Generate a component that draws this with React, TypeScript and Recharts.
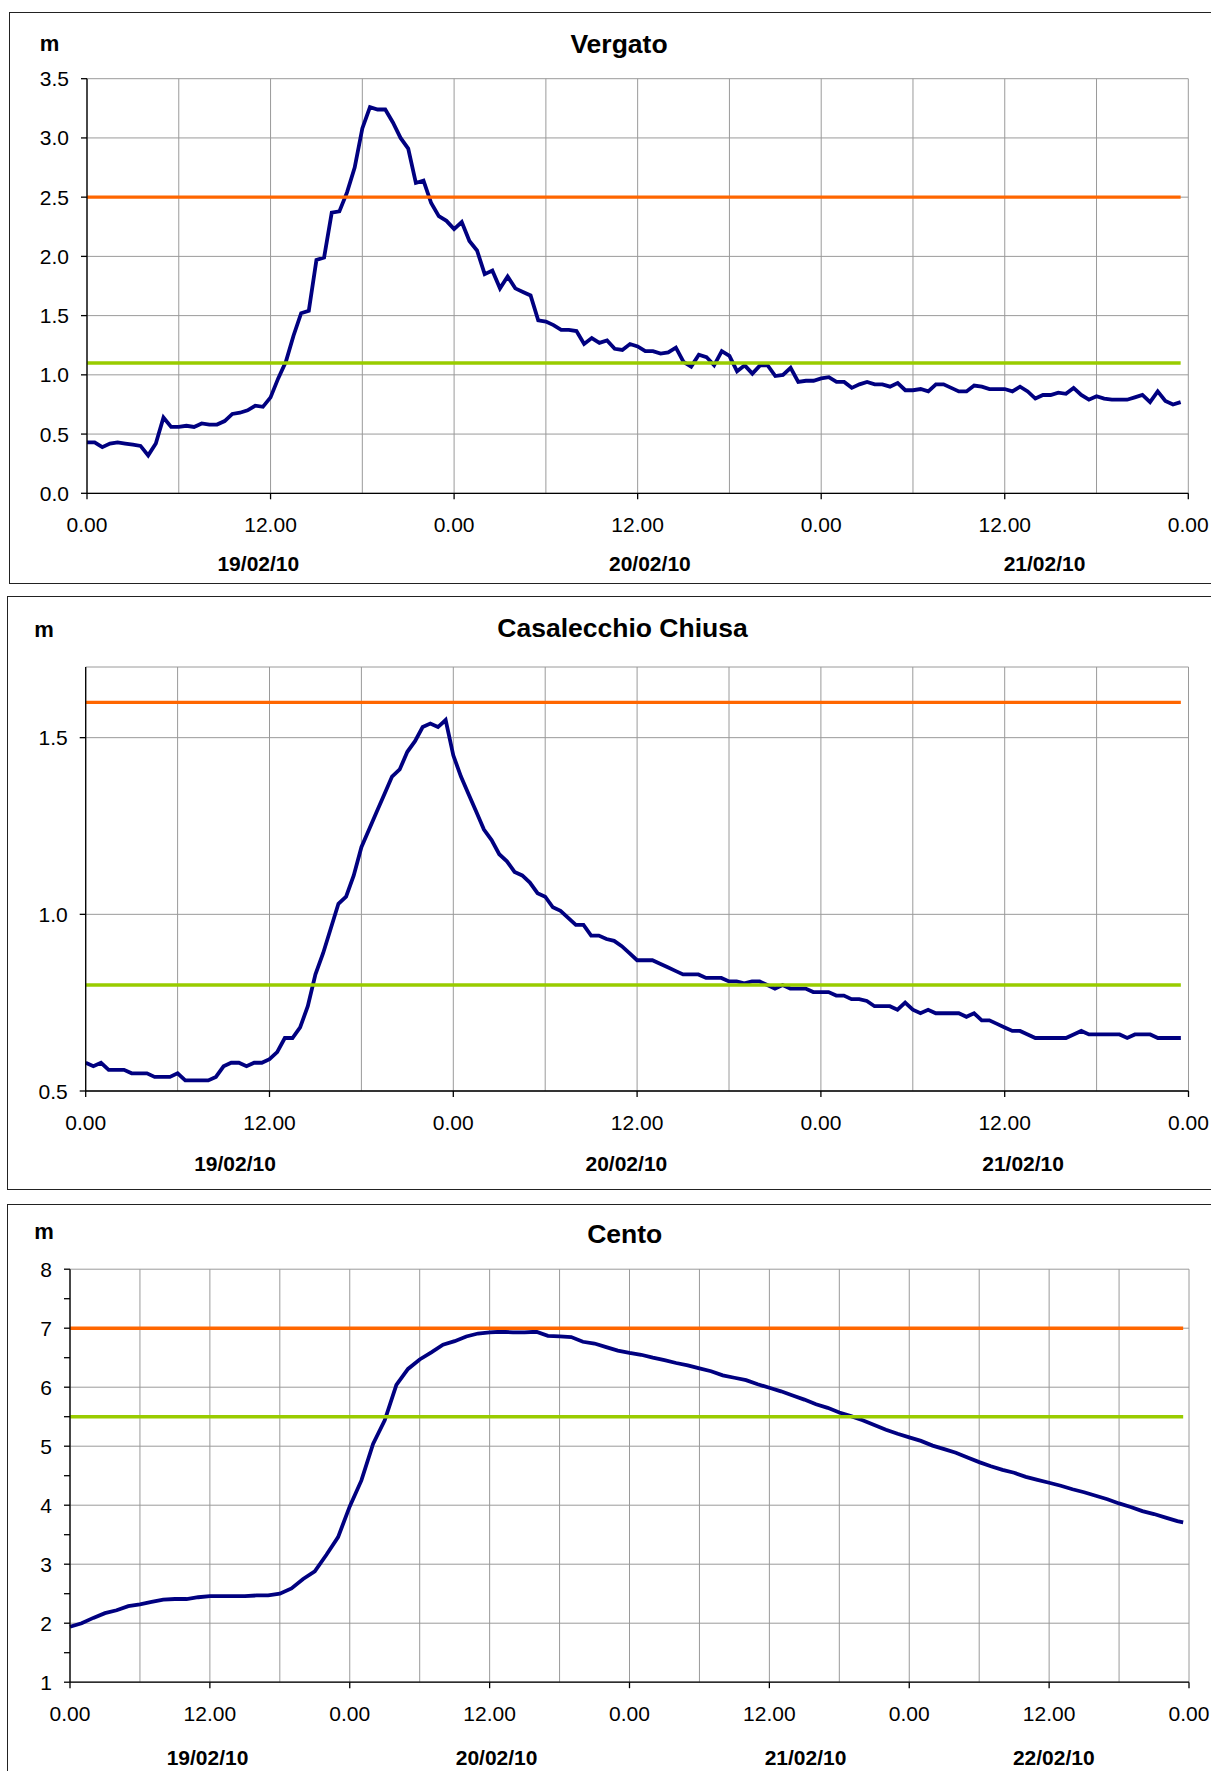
import React from "react";
import { LineChart, Line, XAxis, YAxis, CartesianGrid } from "recharts";

const FONT = '"Liberation Sans", Arial, Helvetica, sans-serif';

// water level (m), one reading every half hour from 19/02/10 0.00
const VERGATO_LEVEL = [
  0.43, 0.43, 0.39, 0.42, 0.43, 0.42, 0.41, 0.40, 0.32, 0.42,
  0.64, 0.56, 0.56, 0.57, 0.56, 0.59, 0.58, 0.58, 0.61, 0.67,
  0.68, 0.70, 0.74, 0.73, 0.81, 0.97, 1.11, 1.33, 1.52, 1.54,
  1.97, 1.99, 2.37, 2.38, 2.54, 2.75, 3.08, 3.26, 3.24, 3.24,
  3.13, 3.00, 2.91, 2.62, 2.64, 2.45, 2.34, 2.30, 2.23, 2.29,
  2.13, 2.05, 1.85, 1.88, 1.73, 1.83, 1.73, 1.70, 1.67, 1.46,
  1.45, 1.42, 1.38, 1.38, 1.37, 1.26, 1.31, 1.27, 1.29, 1.22,
  1.21, 1.26, 1.24, 1.20, 1.20, 1.18, 1.19, 1.23, 1.11, 1.07,
  1.17, 1.15, 1.08, 1.20, 1.16, 1.03, 1.08, 1.01, 1.08, 1.08,
  0.99, 1.00, 1.06, 0.94, 0.95, 0.95, 0.97, 0.98, 0.94, 0.94,
  0.89, 0.92, 0.94, 0.92, 0.92, 0.90, 0.93, 0.87, 0.87, 0.88,
  0.86, 0.92, 0.92, 0.89, 0.86, 0.86, 0.91, 0.90, 0.88, 0.88,
  0.88, 0.86, 0.90, 0.86, 0.80, 0.83, 0.83, 0.85, 0.84, 0.89,
  0.83, 0.79, 0.82, 0.80, 0.79, 0.79, 0.79, 0.81, 0.83, 0.77,
  0.86, 0.78, 0.75, 0.77,
];

const CASALECCHIO_LEVEL = [
  0.58, 0.57, 0.58, 0.56, 0.56, 0.56, 0.55, 0.55, 0.55, 0.54,
  0.54, 0.54, 0.55, 0.53, 0.53, 0.53, 0.53, 0.54, 0.57, 0.58,
  0.58, 0.57, 0.58, 0.58, 0.59, 0.61, 0.65, 0.65, 0.68, 0.74,
  0.83, 0.89, 0.96, 1.03, 1.05, 1.11, 1.19, 1.24, 1.29, 1.34,
  1.39, 1.41, 1.46, 1.49, 1.53, 1.54, 1.53, 1.55, 1.45, 1.39,
  1.34, 1.29, 1.24, 1.21, 1.17, 1.15, 1.12, 1.11, 1.09, 1.06,
  1.05, 1.02, 1.01, 0.99, 0.97, 0.97, 0.94, 0.94, 0.93, 0.925,
  0.91, 0.89, 0.87, 0.87, 0.87, 0.86, 0.85, 0.84, 0.83, 0.83,
  0.83, 0.82, 0.82, 0.82, 0.81, 0.81, 0.805, 0.81, 0.81, 0.80,
  0.79, 0.80, 0.79, 0.79, 0.79, 0.78, 0.78, 0.78, 0.77, 0.77,
  0.76, 0.76, 0.755, 0.74, 0.74, 0.74, 0.73, 0.75, 0.73, 0.72,
  0.73, 0.72, 0.72, 0.72, 0.72, 0.71, 0.72, 0.70, 0.70, 0.69,
  0.68, 0.67, 0.67, 0.66, 0.65, 0.65, 0.65, 0.65, 0.65, 0.66,
  0.67, 0.66, 0.66, 0.66, 0.66, 0.66, 0.65, 0.66, 0.66, 0.66,
  0.65, 0.65, 0.65, 0.65,
];

// Cento: hourly readings, last one at 23.30 of 22/02
const CENTO_LEVEL = [
  1.94, 2.00, 2.09, 2.17, 2.22, 2.29, 2.32, 2.36, 2.40, 2.41,
  2.41, 2.44, 2.46, 2.46, 2.46, 2.46, 2.47, 2.47, 2.50, 2.59,
  2.75, 2.88, 3.16, 3.46, 3.98, 4.42, 5.04, 5.44, 6.04, 6.31,
  6.47, 6.59, 6.72, 6.78, 6.86, 6.91, 6.93, 6.94, 6.93, 6.93,
  6.94, 6.87, 6.86, 6.85, 6.77, 6.74, 6.68, 6.62, 6.58, 6.55,
  6.50, 6.46, 6.41, 6.37, 6.32, 6.27, 6.20, 6.16, 6.12, 6.05,
  5.99, 5.93, 5.86, 5.79, 5.71, 5.65, 5.57, 5.51, 5.44, 5.36,
  5.28, 5.21, 5.15, 5.09, 5.01, 4.95, 4.89, 4.81, 4.73, 4.66,
  4.60, 4.55, 4.48, 4.43, 4.38, 4.33, 4.27, 4.22, 4.16, 4.10,
  4.03, 3.97, 3.90, 3.85, 3.79, 3.73, 3.71,
];
const CENTO_HOURS = CENTO_LEVEL.map((_, i) => (i < 96 ? i : 95.5));

// alert (orange) and warning (green) thresholds
const VERGATO_ALERT = 2.5;
const VERGATO_WARN = 1.1;
const CASALECCHIO_ALERT = 1.6;
const CASALECCHIO_WARN = 0.8;
const CENTO_ALERT = 7;
const CENTO_WARN = 5.5;

const HOUR_TICKS_3D = [0, 12, 24, 36, 48, 60, 72];
const HOUR_LABELS_3D = ["0.00", "12.00", "0.00", "12.00", "0.00", "12.00", "0.00"];
const HOUR_TICKS_4D = [0, 12, 24, 36, 48, 60, 72, 84, 96];
const HOUR_LABELS_4D = ["0.00", "12.00", "0.00", "12.00", "0.00", "12.00", "0.00", "12.00", "0.00"];
const GRID_HOURS_3D = [0, 6, 12, 18, 24, 30, 36, 42, 48, 54, 60, 66, 72];
const GRID_HOURS_4D = [0, 6, 12, 18, 24, 30, 36, 42, 48, 54, 60, 66, 72, 78, 84, 90, 96];

const DATE_LABELS_3 = ["19/02/10", "20/02/10", "21/02/10"];
const DATE_LABELS_4 = ["19/02/10", "20/02/10", "21/02/10", "22/02/10"];
const VERGATO_DATE_AT = [11.2, 36.8, 62.6];
const CASALECCHIO_DATE_AT = [9.75, 35.3, 61.2];
const CENTO_DATE_AT = [11.8, 36.6, 63.1, 84.4];

const VERGATO_Y_TICKS = [0, 0.5, 1, 1.5, 2, 2.5, 3, 3.5];
const CASALECCHIO_Y_TICKS = [0.5, 1, 1.5];
const CASALECCHIO_Y_GRID = [0.5, 1, 1.5, 1.7];
const CENTO_Y_TICKS = [1, 1.5, 2, 2.5, 3, 3.5, 4, 4.5, 5, 5.5, 6, 6.5, 7, 7.5, 8];
const CENTO_Y_LABELLED = [1, 2, 3, 4, 5, 6, 7, 8];

const NAVY = "#000080";
const ORANGE = "#FF6600";
const GREEN = "#99CC00";
const GRID = "#9a9a9a";

type PanelProps = {
  title: string;
  times: number[];
  levels: number[];
  alert: number;
  warn: number;
  xMax: number;
  xTicks: number[];
  xLabels: string[];
  xGrid: number[];
  dateAt: number[];
  dateLabels: string[];
  yDomain: [number, number];
  yTicks: number[];
  yGrid: number[];
  yLabelled: number[];
  yDigits: number;
  frame: { left: number; top: number; height: number };
  chart: { top: number; height: number };
  margin: { top: number; left: number; right: number; bottom: number };
  titlePos: [number, number];
  unitPos: [number, number];
  dateMargin: number;
};

function Panel(p: PanelProps) {
  const rows = p.levels.map((v, i) => ({ h: p.times[i], v }));
  const first = p.times[0];
  const last = p.times[p.times.length - 1];
  const alertRows = [{ h: first, v: p.alert }, { h: last, v: p.alert }];
  const warnRows = [{ h: first, v: p.warn }, { h: last, v: p.warn }];

  const yTick = (props: any) => {
    const val = props.payload.value;
    if (!p.yLabelled.includes(val)) return <g />;
    return (
      <text x={props.x} y={props.y} textAnchor="end" dominantBaseline="central"
        fontSize={21} fontFamily={FONT} fill="#000">
        {val.toFixed(p.yDigits)}
      </text>
    );
  };

  return (
    <>
      <div style={{
        position: "absolute", left: p.frame.left, top: p.frame.top,
        width: 1240 - p.frame.left, height: p.frame.height,
        border: "1.3px solid #222", boxSizing: "border-box",
      }} />
      <div style={{
        position: "absolute", left: p.titlePos[0] - 300, top: p.titlePos[1] - 15,
        width: 600, lineHeight: "30px", textAlign: "center",
        fontFamily: FONT, fontWeight: 700, fontSize: 26.5, color: "#000",
      }}>{p.title}</div>
      <div style={{
        position: "absolute", left: p.unitPos[0] - 20, top: p.unitPos[1] - 15,
        width: 40, lineHeight: "30px", textAlign: "center",
        fontFamily: FONT, fontWeight: 700, fontSize: 22, color: "#000",
      }}>m</div>
      <div style={{ position: "absolute", left: 0, top: p.chart.top }}>
        <LineChart width={1211} height={p.chart.height} margin={p.margin}>
          <CartesianGrid stroke={GRID} strokeWidth={1}
            horizontalValues={p.yGrid} verticalValues={p.xGrid} />
          <XAxis dataKey="h" type="number" domain={[0, p.xMax]} ticks={p.xTicks}
            interval={0} height={40} tickSize={6} tickMargin={18}
            axisLine={{ stroke: "#000", strokeWidth: 1.3 }}
            tickLine={{ stroke: "#000", strokeWidth: 1.3 }}
            tickFormatter={(_v: number, i: number) => p.xLabels[i]}
            tick={{ fontSize: 21, fill: "#000", fontFamily: FONT }} />
          {/* second row of the category axis: the day under each block */}
          <XAxis xAxisId="date" dataKey="h" type="number" domain={[0, p.xMax]}
            ticks={p.dateAt} interval={0} height={40} tickSize={0}
            tickMargin={p.dateMargin} axisLine={false} tickLine={false}
            tickFormatter={(_v: number, i: number) => p.dateLabels[i]}
            tick={{ fontSize: 21, fill: "#000", fontFamily: FONT, fontWeight: 700 }} />
          <YAxis type="number" domain={p.yDomain} ticks={p.yTicks} interval={0}
            width={70} tickSize={6} tickMargin={12}
            axisLine={{ stroke: "#000", strokeWidth: 1.3 }}
            tickLine={{ stroke: "#000", strokeWidth: 1.3 }}
            tick={yTick} />
          <Line data={rows} dataKey="v" type="linear" stroke={NAVY} strokeWidth={3.8}
            dot={false} isAnimationActive={false} />
          <Line data={alertRows} dataKey="v" type="linear" stroke={ORANGE} strokeWidth={3.4}
            dot={false} isAnimationActive={false} />
          <Line xAxisId="date" data={warnRows} dataKey="v" type="linear" stroke={GREEN}
            strokeWidth={3.4} dot={false} isAnimationActive={false} />
        </LineChart>
      </div>
    </>
  );
}

const halfHours = (n: number) => Array.from({ length: n }, (_, i) => i * 0.5);

export default function App() {
  return (
    <div style={{
      position: "absolute", left: 0, top: 0, width: 1211, height: 1771,
      overflow: "hidden", background: "#fff",
    }}>
      <Panel
        title="Vergato"
        times={halfHours(VERGATO_LEVEL.length)}
        levels={VERGATO_LEVEL}
        alert={VERGATO_ALERT}
        warn={VERGATO_WARN}
        xMax={72}
        xTicks={HOUR_TICKS_3D}
        xLabels={HOUR_LABELS_3D}
        xGrid={GRID_HOURS_3D}
        dateAt={VERGATO_DATE_AT}
        dateLabels={DATE_LABELS_3}
        yDomain={[0, 3.5]}
        yTicks={VERGATO_Y_TICKS}
        yGrid={VERGATO_Y_TICKS}
        yLabelled={VERGATO_Y_TICKS}
        yDigits={1}
        frame={{ left: 9, top: 12, height: 572 }}
        chart={{ top: 12, height: 572 }}
        margin={{ top: 66.7, left: 17, right: 22.7, bottom: 10.7 }}
        titlePos={[619, 44]}
        unitPos={[49.5, 44]}
        dateMargin={23.2}
      />
      <Panel
        title="Casalecchio Chiusa"
        times={halfHours(CASALECCHIO_LEVEL.length)}
        levels={CASALECCHIO_LEVEL}
        alert={CASALECCHIO_ALERT}
        warn={CASALECCHIO_WARN}
        xMax={72}
        xTicks={HOUR_TICKS_3D}
        xLabels={HOUR_LABELS_3D}
        xGrid={GRID_HOURS_3D}
        dateAt={CASALECCHIO_DATE_AT}
        dateLabels={DATE_LABELS_3}
        yDomain={[0.5, 1.7]}
        yTicks={CASALECCHIO_Y_TICKS}
        yGrid={CASALECCHIO_Y_GRID}
        yLabelled={CASALECCHIO_Y_TICKS}
        yDigits={1}
        frame={{ left: 7, top: 596, height: 594 }}
        chart={{ top: 596, height: 594 }}
        margin={{ top: 71, left: 15.7, right: 22.5, bottom: 19 }}
        titlePos={[622.5, 628]}
        unitPos={[44, 630]}
        dateMargin={25}
      />
      <Panel
        title="Cento"
        times={CENTO_HOURS}
        levels={CENTO_LEVEL}
        alert={CENTO_ALERT}
        warn={CENTO_WARN}
        xMax={96}
        xTicks={HOUR_TICKS_4D}
        xLabels={HOUR_LABELS_4D}
        xGrid={GRID_HOURS_4D}
        dateAt={CENTO_DATE_AT}
        dateLabels={DATE_LABELS_4}
        yDomain={[1, 8]}
        yTicks={CENTO_Y_TICKS}
        yGrid={CENTO_Y_LABELLED}
        yLabelled={CENTO_Y_LABELLED}
        yDigits={0}
        frame={{ left: 6.5, top: 1203.5, height: 620 }}
        chart={{ top: 1203.5, height: 567.5 }}
        margin={{ top: 65.2, left: 0, right: 22, bottom: 9.3 }}
        titlePos={[624.7, 1233.7]}
        unitPos={[44, 1231.5]}
        dateMargin={27.5}
      />
    </div>
  );
}
